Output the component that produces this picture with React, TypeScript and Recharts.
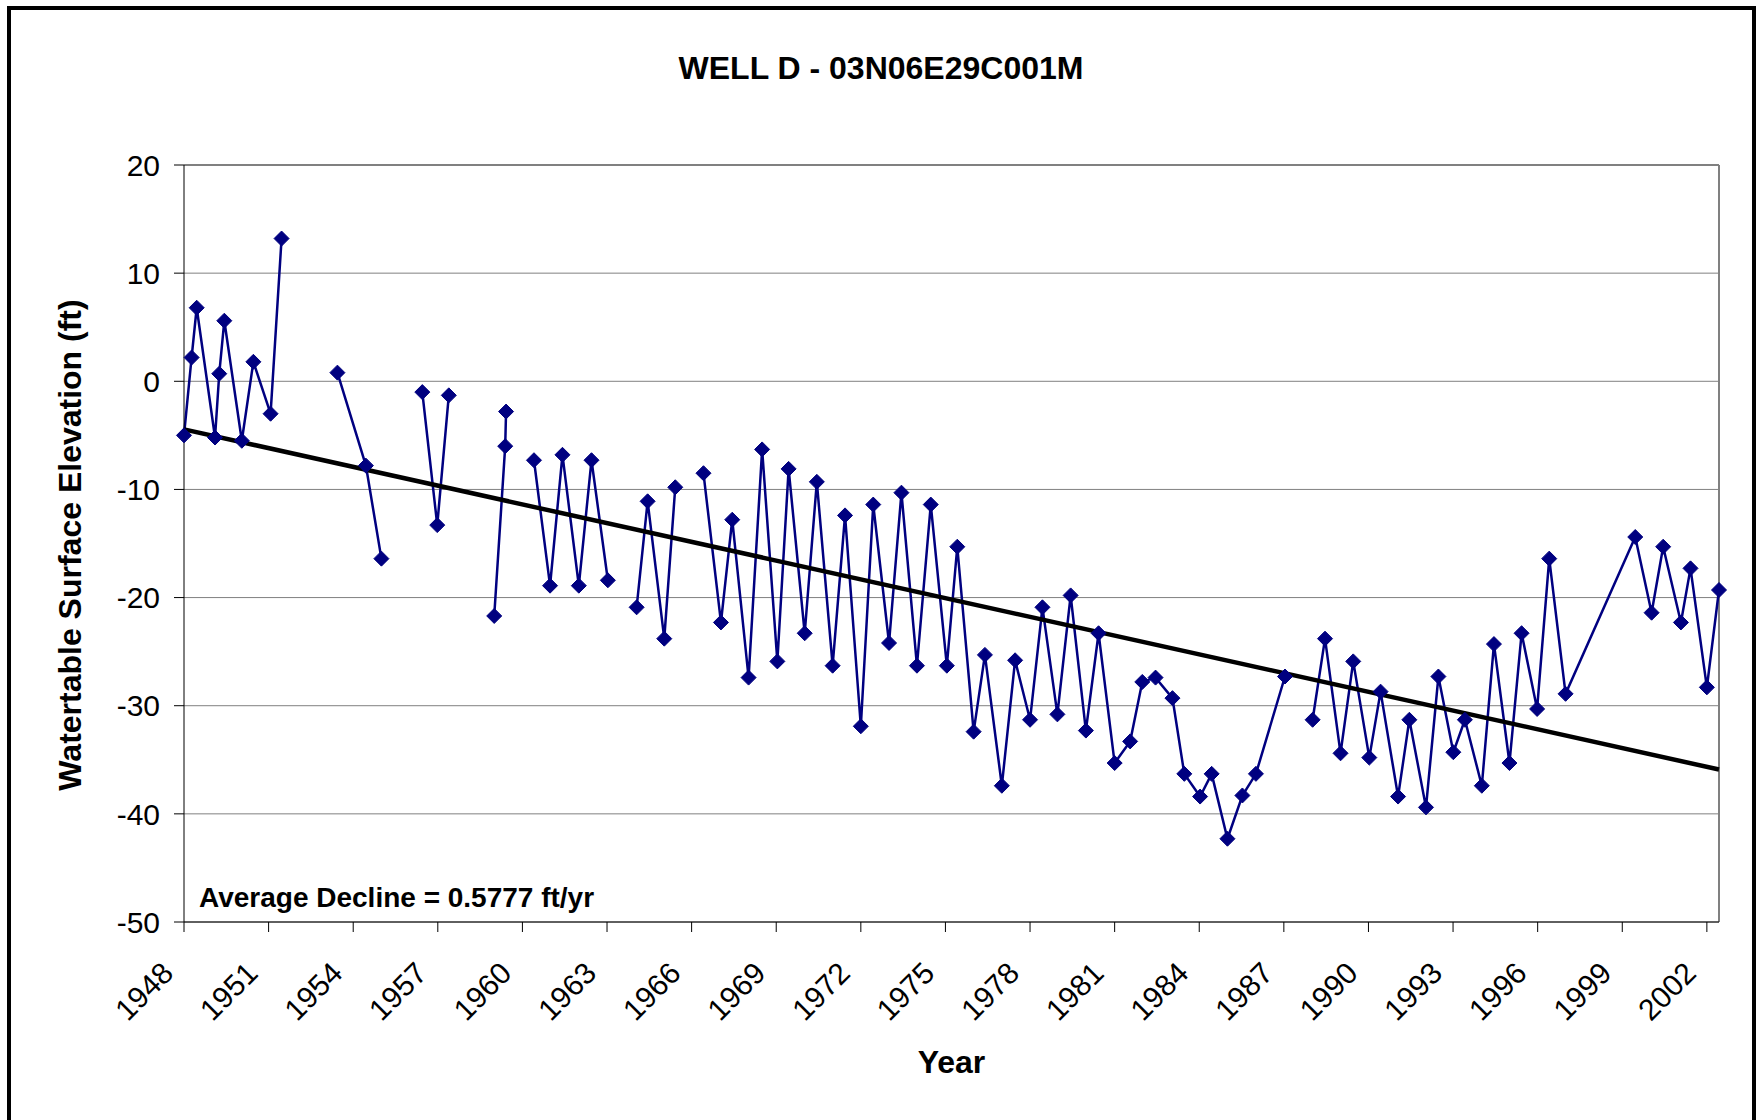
import React from 'react';
import { LineChart, Line, XAxis, YAxis, CartesianGrid, ReferenceLine } from 'recharts';

// measurement dates (decimal years); null level = missing reading (breaks the line)
const years = [
  1948.0, 1948.27, 1948.45, 1949.1, 1949.25, 1949.43, 1950.05, 1950.46, 1951.07, 1951.46,
  1952.4,
  1953.44, 1954.45, 1955.0,
  1955.7,
  1956.45, 1956.98, 1957.39,
  1958.2,
  1959.0, 1959.39, 1959.42,
  1959.9,
  1960.41, 1960.98, 1961.42, 1962.0, 1962.45, 1963.03,
  1963.5,
  1964.05, 1964.44, 1965.03, 1965.42,
  1966.0,
  1966.42, 1967.04, 1967.44, 1968.02, 1968.5, 1969.04, 1969.44, 1970.01, 1970.44, 1971.0,
  1971.44, 1972.0, 1972.44, 1973.0, 1973.44, 1973.99, 1974.48, 1975.05, 1975.42, 1976.0,
  1976.4, 1977.0, 1977.47, 1978.0, 1978.44, 1978.97, 1979.44, 1979.98, 1980.43, 1981.0,
  1981.55, 1981.98, 1982.45, 1983.05, 1983.47, 1984.03, 1984.44, 1985.0, 1985.53, 1986.01,
  1987.04,
  1987.5,
  1988.02, 1988.46, 1989.01, 1989.46, 1990.03, 1990.43, 1991.05, 1991.45, 1992.04, 1992.48,
  1993.01, 1993.42, 1994.02, 1994.45, 1995.0, 1995.43, 1995.98, 1996.41, 1996.99, 1999.46,
  2000.04, 2000.45, 2001.08, 2001.42, 2002.0, 2002.43,
];

const levels: (number | null)[] = [
  -5.0, 2.2, 6.8, -5.2, 0.7, 5.6, -5.5, 1.8, -3.0, 13.2,
  null,
  0.8, -7.8, -16.4,
  null,
  -1.0, -13.3, -1.3,
  null,
  -21.7, -6.0, -2.8,
  null,
  -7.3, -18.9, -6.8, -18.9, -7.3, -18.4,
  null,
  -20.9, -11.1, -23.8, -9.8,
  null,
  -8.5, -22.3, -12.8, -27.4, -6.3, -25.9, -8.1, -23.3, -9.3, -26.3,
  -12.4, -31.9, -11.4, -24.2, -10.3, -26.3, -11.4, -26.3, -15.3, -32.4,
  -25.3, -37.4, -25.8, -31.3, -20.9, -30.8, -19.8, -32.3, -23.3, -35.3,
  -33.3, -27.8, -27.4, -29.3, -36.3, -38.4, -36.3, -42.3, -38.3, -36.3,
  -27.3,
  null,
  -31.3, -23.8, -34.4, -25.9, -34.8, -28.7, -38.4, -31.3, -39.4, -27.3,
  -34.3, -31.3, -37.4, -24.3, -35.3, -23.3, -30.3, -16.4, -28.9, -14.4,
  -21.4, -15.3, -22.3, -17.3, -28.3, -19.3,
];

// linear trend end points
const trendYears = [1948.0, 2002.43];
const trendLevels = [-4.45, -35.9];

const yearTicks = [1948, 1951, 1954, 1957, 1960, 1963, 1966, 1969, 1972, 1975, 1978, 1981, 1984, 1987, 1990, 1993, 1996, 1999, 2002];
const levelTicks = [-50, -40, -30, -20, -10, 0, 10, 20];

const FONT = "'Liberation Sans', Arial, Helvetica, sans-serif";

const rows = years.map((year, i) => {
  const t = trendYears.indexOf(year);
  return { year, level: levels[i], trend: t >= 0 ? trendLevels[t] : null };
});

const Diamond = (props: any) => {
  const { cx, cy, key } = props;
  if (cx == null || cy == null || props.value == null) return <g key={key} />;
  const r = 7.5;
  return (
    <polygon
      key={key}
      points={`${cx},${cy - r} ${cx + r},${cy} ${cx},${cy + r} ${cx - r},${cy}`}
      fill="#000080"
      stroke="#000080"
      strokeWidth={1}
    />
  );
};

const YearTick = (props: any) => {
  const { x, y, payload } = props;
  const ax = x - 9;
  const ay = y + 43;
  return (
    <text
      x={ax}
      y={ay}
      transform={`rotate(-45, ${ax}, ${ay})`}
      textAnchor="end"
      fontFamily={FONT}
      fontSize={30}
      fill="#000"
    >
      {payload.value}
    </text>
  );
};

function App() {
  return (
    <div
      style={{
        position: 'fixed',
        left: 0,
        top: 0,
        width: 1756,
        height: 1120,
        overflow: 'hidden',
        background: '#fff',
      }}
    >
      <div
        style={{
          position: 'absolute',
          left: 7,
          top: 6,
          width: 1749,
          height: 1130,
          boxSizing: 'border-box',
          border: '4px solid #000',
        }}
      />
      <div style={{ position: 'absolute', left: 0, top: 0 }}>
        <LineChart
          width={1756}
          height={1120}
          data={rows}
          margin={{ top: 165, right: 37, bottom: 138, left: 104 }}
        >
          <CartesianGrid vertical={false} stroke="#808080" strokeWidth={1} />
          <XAxis
            dataKey="year"
            type="number"
            domain={[1948, 2002.43]}
            ticks={yearTicks}
            height={60}
            tickSize={10}
            tickMargin={0}
            tick={<YearTick />}
            axisLine={{ stroke: '#000', strokeWidth: 1 }}
            tickLine={{ stroke: '#000', strokeWidth: 1 }}
            interval={0}
          />
          <YAxis
            type="number"
            domain={[-50, 20]}
            ticks={levelTicks}
            width={80}
            tickSize={10}
            tickMargin={14}
            tick={{ fontFamily: FONT, fontSize: 30, fill: '#000' }}
            axisLine={{ stroke: '#000', strokeWidth: 1 }}
            tickLine={{ stroke: '#000', strokeWidth: 1 }}
            interval={0}
          />
          <ReferenceLine y={20} stroke="#808080" strokeWidth={2} />
          <ReferenceLine x={2002.43} stroke="#808080" strokeWidth={2} />
          <Line
            type="linear"
            dataKey="level"
            stroke="#000080"
            strokeWidth={2.5}
            dot={Diamond}
            activeDot={false}
            connectNulls={false}
            isAnimationActive={false}
          />
          <Line
            type="linear"
            dataKey="trend"
            stroke="#000"
            strokeWidth={4.5}
            dot={false}
            activeDot={false}
            connectNulls
            isAnimationActive={false}
          />
        </LineChart>
      </div>
      <svg
        width={1756}
        height={1120}
        style={{ position: 'absolute', left: 0, top: 0, pointerEvents: 'none' }}
      >
        <text x={881} y={79} textAnchor="middle" fontFamily={FONT} fontWeight="bold" fontSize={32}>
          WELL D - 03N06E29C001M
        </text>
        <text
          x={81}
          y={545}
          transform="rotate(-90, 81, 545)"
          textAnchor="middle"
          fontFamily={FONT}
          fontWeight="bold"
          fontSize={32}
        >
          Watertable Surface Elevation (ft)
        </text>
        <text x={951.5} y={1073} textAnchor="middle" fontFamily={FONT} fontWeight="bold" fontSize={32}>
          Year
        </text>
        <text x={199} y={907} fontFamily={FONT} fontWeight="bold" fontSize={28}>
          Average Decline = 0.5777 ft/yr
        </text>
      </svg>
    </div>
  );
}

export default App;
